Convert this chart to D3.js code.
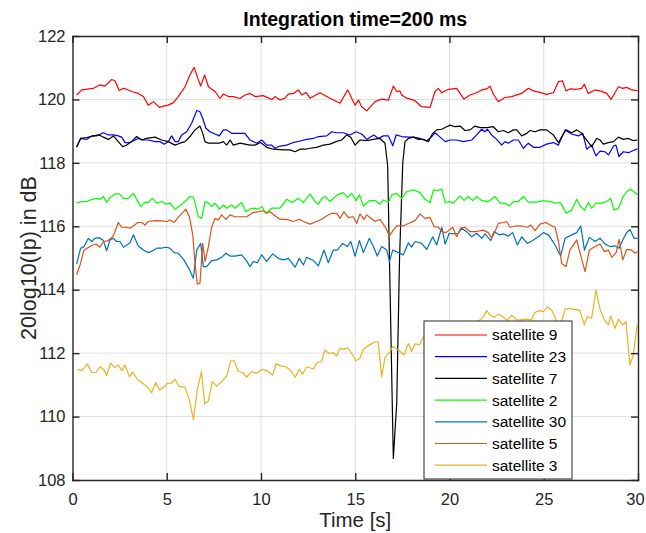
<!DOCTYPE html>
<html lang="en">
<head>
<meta charset="UTF-8">
<title>Integration time=200 ms</title>
<script src="https://d3js.org/d3.v7.min.js"></script>
<style>
    body { margin: 0; background: #fff; }
    svg { font-family: "Liberation Sans", Arial, sans-serif; }
    .grid line { stroke: #dedede; stroke-width: 1; }
    .axis path, .axis line { stroke: #262626; stroke-width: 1.4; }
    .axis text { font-size: 16.5px; fill: #262626; }
    .series { fill: none; stroke-width: 1.2; stroke-linejoin: round; }
    .legend text { font-size: 15.5px; fill: #000; }
</style>
</head>
<body>
<script>
// values, [time s, 20log10(Ip) dB]
var sat9 = [[0.22,120.14],[0.49,120.30],[1.11,120.35],[1.46,120.46],[1.72,120.42],[2.08,120.63],[2.25,120.59],[2.48,120.28],[2.70,120.35],[2.87,120.32],[3.14,120.25],[3.49,120.19],[3.76,120.09],[4.02,119.82],[4.29,119.93],[4.61,119.75],[4.82,119.79],[5.08,119.82],[5.35,119.90],[5.61,120.09],[5.97,120.40],[6.23,120.77],[6.45,121.01],[6.62,120.72],[6.80,120.42],[7.01,120.77],[7.21,120.40],[7.56,120.25],[7.82,120.03],[8.00,120.17],[8.27,120.09],[8.53,120.09],[8.89,120.03],[9.15,120.14],[9.42,120.19],[9.68,120.09],[10.12,120.12],[10.57,120.00],[10.74,120.09],[11.01,119.98],[11.27,120.04],[11.45,120.17],[11.72,120.19],[11.98,120.30],[12.16,120.14],[12.39,120.22],[12.60,120.04],[13.13,120.21],[13.66,120.04],[14.19,119.88],[14.60,120.30],[14.99,119.82],[15.17,119.98],[15.34,119.77],[15.61,119.64],[16.05,119.93],[16.40,120.01],[16.76,119.98],[17.02,120.42],[17.20,120.25],[17.37,120.27],[17.46,120.14],[17.73,120.04],[18.17,119.96],[18.52,119.77],[18.97,119.75],[19.23,120.25],[19.41,120.35],[19.59,120.21],[19.94,120.32],[20.38,120.35],[20.77,120.01],[21.09,120.14],[21.44,120.21],[21.71,120.30],[21.97,120.33],[22.15,120.42],[22.32,120.17],[22.59,119.93],[22.94,120.06],[23.30,120.09],[23.65,120.16],[23.83,120.19],[24.18,120.35],[24.45,120.27],[24.80,120.22],[25.15,120.16],[25.51,120.21],[25.78,120.56],[25.99,120.59],[26.18,120.27],[26.39,120.33],[26.75,120.32],[27.01,120.35],[27.15,120.48],[27.36,120.19],[27.72,120.30],[27.99,120.27],[28.34,120.19],[28.57,120.00],[28.78,120.21],[28.96,120.40],[29.19,120.35],[29.40,120.38],[29.67,120.30],[29.97,120.28]];

var sat23 = [[0.22,118.51],[0.43,118.77],[0.75,118.74],[1.02,118.85],[1.28,118.85],[1.64,118.95],[1.90,118.88],[2.17,118.88],[2.43,118.85],[2.61,118.81],[2.79,118.64],[3.05,118.64],[3.32,118.72],[3.49,118.77],[3.76,118.72],[4.02,118.72],[4.38,118.67],[4.64,118.67],[4.87,118.59],[5.08,118.67],[5.26,118.85],[5.44,118.67],[5.61,118.67],[5.79,118.88],[6.06,118.98],[6.32,119.25],[6.59,119.65],[6.76,119.61],[6.91,119.40],[7.08,119.09],[7.29,118.98],[7.56,118.91],[7.79,118.85],[8.00,119.04],[8.18,119.04],[8.44,118.93],[8.80,118.93],[9.15,118.93],[9.42,118.72],[9.77,118.62],[10.04,118.72],[10.30,118.56],[10.57,118.56],[10.74,118.46],[11.01,118.53],[11.36,118.56],[11.71,118.64],[12.07,118.69],[12.42,118.74],[12.78,118.77],[13.04,118.83],[13.49,118.85],[13.75,118.98],[14.02,118.95],[14.37,118.95],[14.72,118.88],[15.04,118.98],[15.34,118.91],[15.61,118.74],[15.78,118.81],[15.99,118.88],[16.22,118.77],[16.49,118.85],[16.76,118.85],[16.99,118.54],[17.17,118.88],[17.46,118.83],[17.82,118.81],[18.08,118.81],[18.44,118.77],[18.79,118.69],[19.06,118.83],[19.23,118.95],[19.50,118.81],[19.77,118.67],[20.03,118.72],[20.38,118.72],[20.73,118.67],[21.18,118.72],[21.44,118.88],[21.71,119.06],[21.88,118.98],[22.02,119.06],[22.23,118.88],[22.50,118.74],[22.77,118.56],[22.94,118.67],[23.12,118.62],[23.39,118.72],[23.65,118.72],[23.92,118.46],[24.18,118.62],[24.45,118.49],[24.80,118.49],[25.15,118.59],[25.51,118.64],[25.78,118.56],[26.13,119.04],[26.48,118.91],[26.84,118.85],[27.07,118.93],[27.28,118.43],[27.54,118.56],[27.77,118.22],[27.99,118.37],[28.25,118.35],[28.43,118.25],[28.70,118.53],[28.83,118.56],[28.99,118.20],[29.22,118.35],[29.49,118.32],[29.75,118.39],[29.97,118.44]];

var sat7 = [[0.22,118.49],[0.43,118.77],[0.75,118.80],[1.11,118.85],[1.42,118.88],[1.64,118.81],[1.90,118.74],[2.17,118.85],[2.43,118.67],[2.66,118.51],[2.87,118.56],[3.14,118.67],[3.40,118.83],[3.67,118.72],[3.93,118.77],[4.38,118.81],[4.73,118.72],[5.08,118.67],[5.44,118.56],[5.70,118.62],[5.97,118.67],[6.23,118.83],[6.50,119.04],[6.76,119.16],[6.91,118.93],[7.03,118.67],[7.21,118.62],[7.47,118.62],[7.79,118.62],[8.00,118.67],[8.18,118.56],[8.36,118.72],[8.53,118.56],[8.89,118.62],[9.15,118.59],[9.42,118.56],[9.68,118.56],[9.98,118.64],[10.30,118.49],[10.66,118.43],[11.19,118.41],[11.54,118.41],[11.81,118.35],[12.07,118.43],[12.34,118.43],[12.60,118.46],[12.95,118.49],[13.31,118.56],[13.66,118.59],[13.98,118.67],[14.28,118.72],[14.55,118.88],[14.76,118.81],[14.99,118.56],[15.25,118.72],[15.61,118.70],[15.96,118.74],[16.31,118.77],[16.58,118.62],[16.72,117.90],[17.02,108.68],[17.20,110.42],[17.35,115.00],[17.52,118.00],[17.64,118.67],[17.82,118.77],[18.08,118.81],[18.35,118.74],[18.62,118.74],[18.88,118.67],[19.11,118.93],[19.32,119.04],[19.59,119.06],[19.85,119.14],[20.03,119.19],[20.29,119.14],[20.56,119.16],[20.82,119.02],[21.09,119.04],[21.36,119.16],[21.62,119.11],[21.97,119.11],[22.32,119.14],[22.59,118.98],[22.86,119.02],[23.12,118.95],[23.39,119.04],[23.57,119.04],[23.83,118.85],[24.10,118.93],[24.27,119.02],[24.54,118.98],[24.80,119.04],[25.15,119.04],[25.51,118.88],[25.78,118.64],[26.01,118.88],[26.18,119.04],[26.48,118.95],[26.75,119.04],[27.01,118.93],[27.28,118.72],[27.54,118.51],[27.81,118.77],[27.99,118.72],[28.16,118.59],[28.43,118.64],[28.70,118.67],[28.96,118.81],[29.22,118.74],[29.49,118.77],[29.75,118.70],[29.97,118.72]];

var sat2 = [[0.22,116.73],[0.49,116.78],[0.75,116.78],[1.02,116.85],[1.28,116.88],[1.46,116.85],[1.64,116.94],[1.81,116.75],[1.99,116.91],[2.25,117.02],[2.48,117.02],[2.70,116.88],[2.96,116.88],[3.23,117.04],[3.40,116.85],[3.62,116.62],[3.85,116.76],[4.02,116.75],[4.25,116.88],[4.47,116.73],[4.73,116.78],[4.96,116.70],[5.17,116.73],[5.44,116.54],[5.67,116.64],[5.97,116.78],[6.23,116.94],[6.41,116.91],[6.55,116.62],[6.68,116.30],[6.85,116.25],[7.03,116.78],[7.21,116.73],[7.38,116.62],[7.56,116.73],[7.79,116.54],[8.00,116.67],[8.18,116.57],[8.44,116.67],[8.62,116.57],[8.97,116.75],[9.20,116.46],[9.42,116.54],[9.68,116.57],[9.86,116.54],[10.04,116.62],[10.27,116.41],[10.57,116.57],[11.01,116.57],[11.36,116.85],[11.63,116.75],[11.98,116.88],[12.25,116.75],[12.60,117.02],[12.87,116.78],[13.04,116.69],[13.22,116.88],[13.39,116.94],[13.66,116.78],[14.05,116.99],[14.37,117.06],[14.58,116.91],[14.81,117.04],[15.04,116.81],[15.22,116.99],[15.43,116.64],[15.75,116.81],[16.05,116.81],[16.31,116.70],[16.49,116.83],[16.76,116.75],[16.93,116.99],[17.20,117.04],[17.46,116.88],[17.73,117.09],[18.08,117.15],[18.44,117.06],[18.70,116.85],[18.97,116.75],[19.15,117.15],[19.36,117.12],[19.59,117.17],[19.77,116.75],[19.99,116.78],[20.20,116.73],[20.56,116.96],[20.77,116.81],[21.00,116.94],[21.23,116.81],[21.44,116.94],[21.71,116.81],[22.06,116.78],[22.41,116.94],[22.68,116.73],[22.94,116.73],[23.17,116.64],[23.39,116.78],[23.65,116.78],[23.92,116.94],[24.18,116.76],[24.63,116.76],[24.98,116.81],[25.33,116.78],[25.60,116.73],[25.87,116.75],[26.01,116.62],[26.18,116.41],[26.48,116.51],[26.75,116.85],[26.93,116.64],[27.16,116.51],[27.37,116.75],[27.54,116.57],[27.77,116.73],[28.07,116.73],[28.34,116.78],[28.55,116.88],[28.73,116.51],[28.96,116.57],[29.22,116.94],[29.40,117.09],[29.61,117.17],[29.79,117.09],[29.97,116.99]];

var sat30 = [[0.22,114.81],[0.43,115.31],[0.61,115.36],[0.84,115.62],[1.02,115.52],[1.19,115.62],[1.42,115.64],[1.64,115.55],[1.81,115.23],[1.99,115.57],[2.17,115.62],[2.34,115.52],[2.52,115.52],[2.70,115.34],[2.96,115.44],[3.05,115.48],[3.23,115.73],[3.49,115.38],[3.76,115.25],[4.02,115.17],[4.25,115.23],[4.47,115.31],[4.73,115.31],[4.96,115.34],[5.17,115.31],[5.39,115.17],[5.61,115.15],[5.91,114.94],[6.20,114.64],[6.41,114.36],[6.59,115.25],[6.80,115.46],[6.94,114.73],[7.12,114.73],[7.38,114.92],[7.65,114.94],[7.91,115.02],[8.14,115.15],[8.36,115.06],[8.62,115.06],[8.97,115.10],[9.20,114.94],[9.42,114.73],[9.59,114.89],[9.81,114.85],[10.04,115.10],[10.30,114.89],[10.62,115.13],[10.92,114.99],[11.19,114.94],[11.45,114.99],[11.81,114.71],[12.03,114.99],[12.25,114.78],[12.42,115.02],[12.78,114.92],[13.04,114.75],[13.34,115.25],[13.57,114.85],[13.84,115.25],[14.05,115.25],[14.33,115.46],[14.58,115.36],[14.76,115.52],[14.99,115.06],[15.22,115.55],[15.43,115.17],[15.75,115.62],[15.96,115.36],[16.17,115.06],[16.40,115.36],[16.67,115.25],[16.81,114.89],[16.99,115.25],[17.29,115.17],[17.55,115.10],[17.82,115.48],[17.99,115.34],[18.17,115.52],[18.52,115.46],[18.79,115.27],[19.11,115.67],[19.32,115.41],[19.59,115.97],[19.77,115.44],[19.99,115.78],[20.20,115.76],[20.47,115.78],[20.65,115.94],[20.91,115.83],[21.18,115.67],[21.44,115.78],[21.71,115.62],[21.88,115.76],[22.19,115.55],[22.36,115.83],[22.64,115.73],[22.86,115.76],[23.12,115.69],[23.35,115.80],[23.60,115.41],[23.83,115.67],[24.13,115.46],[24.45,115.57],[24.71,115.67],[24.98,115.80],[25.25,115.73],[25.60,115.41],[25.90,115.06],[26.13,115.62],[26.48,115.73],[26.75,115.80],[26.96,116.01],[27.16,115.25],[27.42,115.65],[27.72,115.52],[27.99,115.62],[28.25,115.44],[28.52,115.36],[28.78,115.38],[29.00,115.31],[29.19,115.57],[29.40,115.80],[29.58,115.90],[29.79,115.62],[29.97,115.62]];

var sat5 = [[0.22,114.47],[0.40,114.78],[0.61,115.25],[0.84,115.33],[1.07,115.41],[1.25,115.44],[1.46,115.34],[1.64,115.52],[1.90,115.55],[2.13,115.67],[2.25,115.83],[2.43,116.12],[2.61,115.97],[2.84,115.97],[3.05,115.94],[3.23,116.01],[3.46,116.12],[3.67,116.12],[3.85,116.04],[4.02,116.15],[4.38,116.18],[4.73,116.17],[5.00,116.15],[5.17,116.20],[5.39,116.12],[5.61,116.28],[5.84,116.43],[6.02,116.54],[6.20,116.30],[6.38,115.73],[6.50,114.83],[6.62,114.18],[6.76,114.20],[6.91,115.46],[7.03,114.89],[7.21,115.36],[7.38,115.97],[7.56,116.25],[7.74,116.20],[7.91,116.36],[8.14,116.22],[8.36,116.36],[8.62,116.30],[8.97,116.30],[9.24,116.30],[9.56,116.43],[9.91,116.46],[10.12,116.49],[10.30,116.41],[10.48,116.46],[10.74,116.33],[11.01,116.22],[11.36,116.22],[11.71,116.15],[12.03,116.22],[12.25,116.15],[12.60,116.07],[12.95,116.15],[13.22,116.22],[13.49,116.33],[13.75,116.41],[14.02,116.41],[14.19,116.25],[14.40,116.46],[14.63,116.28],[14.90,116.30],[15.08,116.09],[15.25,116.39],[15.46,116.22],[15.61,116.36],[15.78,116.28],[16.05,116.15],[16.31,116.22],[16.58,115.99],[16.81,115.70],[17.02,115.88],[17.20,116.01],[17.55,116.01],[17.82,116.09],[18.17,116.18],[18.44,116.39],[18.70,116.25],[18.97,116.28],[19.18,115.99],[19.41,115.97],[19.59,115.83],[19.81,115.80],[20.17,115.97],[20.38,115.67],[20.59,115.94],[20.82,115.97],[21.09,115.83],[21.40,115.83],[21.62,115.86],[21.79,115.88],[22.06,115.80],[22.24,115.62],[22.41,115.83],[22.59,116.09],[22.86,116.12],[23.03,116.15],[23.21,115.97],[23.53,116.01],[23.83,116.01],[24.13,115.97],[24.31,116.04],[24.54,115.86],[24.80,116.07],[25.12,116.12],[25.33,116.04],[25.60,115.97],[25.78,115.52],[25.95,114.83],[26.18,114.73],[26.39,115.25],[26.75,115.57],[26.93,115.15],[27.19,114.57],[27.42,115.25],[27.72,115.36],[27.99,115.44],[28.22,115.20],[28.43,115.25],[28.61,115.02],[28.84,115.17],[29.00,115.59],[29.19,114.94],[29.40,115.27],[29.67,115.25],[29.85,115.15],[29.97,115.20]];

var sat3 = [[0.26,111.49],[0.49,111.45],[0.79,111.66],[1.02,111.39],[1.25,111.39],[1.46,111.57],[1.64,111.49],[1.81,111.30],[2.02,111.68],[2.25,111.55],[2.43,111.63],[2.61,111.45],[2.79,111.62],[3.02,111.26],[3.19,111.41],[3.44,111.17],[3.72,111.05],[3.97,110.94],[4.20,110.75],[4.41,111.07],[4.61,110.84],[4.85,110.92],[5.03,111.05],[5.23,111.05],[5.44,111.17],[5.65,110.96],[5.97,110.92],[6.20,110.52],[6.41,109.91],[6.62,110.84],[6.84,111.42],[7.01,110.40],[7.21,110.50],[7.42,111.10],[7.65,110.96],[7.91,111.10],[8.18,111.28],[8.39,111.75],[8.57,111.76],[8.80,111.42],[9.03,111.39],[9.24,111.24],[9.50,111.42],[9.77,111.36],[10.04,111.49],[10.30,111.45],[10.62,111.31],[10.80,111.66],[11.04,111.60],[11.33,111.57],[11.58,111.45],[11.81,111.24],[12.03,111.49],[12.21,111.34],[12.42,111.57],[12.78,111.50],[12.95,111.68],[13.22,111.76],[13.39,112.10],[13.61,111.99],[13.80,112.02],[14.02,111.91],[14.19,112.15],[14.40,112.12],[14.60,112.17],[14.81,111.99],[15.04,111.76],[15.25,111.84],[15.43,112.12],[15.75,112.26],[16.05,112.36],[16.22,112.36],[16.40,111.26],[16.58,111.87],[16.84,112.05],[16.99,112.21],[17.29,112.10],[17.59,111.94],[17.82,112.31],[17.99,112.05],[18.17,112.29],[18.40,112.26],[18.62,112.52],[18.95,112.70],[19.35,112.60],[19.75,112.80],[20.15,112.70],[20.55,112.90],[20.95,112.80],[21.35,112.95],[21.62,113.05],[21.80,113.15],[21.97,113.34],[22.15,113.20],[22.36,113.13],[22.59,113.23],[22.82,113.15],[23.07,113.03],[23.30,113.20],[23.56,113.05],[23.83,113.05],[24.09,113.07],[24.35,113.05],[24.53,113.28],[24.76,113.34],[24.98,113.31],[25.19,113.45],[25.42,113.36],[25.65,113.05],[25.87,112.84],[26.13,113.38],[26.39,113.41],[26.57,113.38],[26.75,113.38],[26.92,113.34],[27.15,112.89],[27.31,113.15],[27.54,113.10],[27.77,113.99],[27.99,113.38],[28.21,113.05],[28.43,112.89],[28.55,113.17],[28.78,112.78],[28.96,113.07],[29.19,112.89],[29.36,112.99],[29.57,111.63],[29.75,111.94],[29.96,112.89]];

var labels = ["satellite 9", "satellite 23", "satellite 7", "satellite 2", "satellite 30", "satellite 5", "satellite 3"];
var colors = ["#ff0000", "#0000ff", "#000000", "#00ff00", "#0072bd", "#d95319", "#edb120"];
var xTicks = [0, 5, 10, 15, 20, 25, 30];
var yTicks = [108, 110, 112, 114, 116, 118, 120, 122];

var allSeries = [sat9, sat23, sat7, sat2, sat30, sat5, sat3];

var width = 646, height = 533;
var margin = {top: 36, right: 8, bottom: 53, left: 72.5};

var svg = d3.select("body").append("svg")
    .attr("width", width)
    .attr("height", height);

var x = d3.scaleLinear().domain([0, 30]).range([margin.left, width - margin.right]);
var y = d3.scaleLinear().domain([108, 122]).range([height - margin.bottom, margin.top]);

// grid
var grid = svg.append("g").attr("class", "grid");
grid.selectAll(".gx")
    .data(xTicks.slice(1, -1))
    .enter().append("line")
    .attr("x1", d => x(d)).attr("x2", d => x(d))
    .attr("y1", y(108)).attr("y2", y(122));
grid.selectAll(".gy")
    .data(yTicks.slice(1, -1))
    .enter().append("line")
    .attr("x1", x(0)).attr("x2", x(30))
    .attr("y1", d => y(d)).attr("y2", d => y(d));

// lines
var line = d3.line()
    .x(d => x(d[0]))
    .y(d => y(d[1]));

svg.selectAll(".series")
    .data(allSeries)
    .enter().append("path")
    .attr("class", "series")
    .attr("stroke", (d, i) => colors[i])
    .attr("d", line);

// axes, ticks pointing inward on all four sides
var xAxis = svg.append("g").attr("class", "axis")
    .attr("transform", "translate(0," + y(108) + ")")
    .call(d3.axisBottom(x).tickValues(xTicks).tickSizeInner(-7).tickSizeOuter(0).tickPadding(13));
// last label sits at the window edge, keep it inside
xAxis.selectAll(".tick text").filter(d => d === 30).attr("dx", -3);

svg.append("g").attr("class", "axis")
    .attr("transform", "translate(0," + y(122) + ")")
    .call(d3.axisTop(x).tickValues(xTicks).tickSizeInner(-7).tickSizeOuter(0).tickFormat(""));
svg.append("g").attr("class", "axis")
    .attr("transform", "translate(" + x(0) + ",0)")
    .call(d3.axisLeft(y).tickValues(yTicks).tickSizeInner(-7).tickSizeOuter(0).tickPadding(7));
svg.append("g").attr("class", "axis")
    .attr("transform", "translate(" + x(30) + ",0)")
    .call(d3.axisRight(y).tickValues(yTicks).tickSizeInner(-7).tickSizeOuter(0).tickFormat(""));

svg.selectAll(".axis .domain").attr("stroke-linecap", "square");

// title and labels
svg.append("text")
    .attr("x", (x(0) + x(30)) / 2)
    .attr("y", 26)
    .attr("text-anchor", "middle")
    .style("font-size", "19.5px")
    .style("font-weight", "bold")
    .text("Integration time=200 ms");

svg.append("text")
    .attr("x", (x(0) + x(30)) / 2)
    .attr("y", 527)
    .attr("text-anchor", "middle")
    .style("font-size", "20.5px")
    .attr("fill", "#262626")
    .text("Time [s]");

svg.append("text")
    .attr("transform", "translate(36," + (y(108) + y(122)) / 2 + ") rotate(-90)")
    .attr("text-anchor", "middle")
    .style("font-size", "21.5px")
    .attr("fill", "#262626")
    .text("20log10(Ip) in dB");

// legend
var legend = svg.append("g").attr("class", "legend");
legend.append("rect")
    .attr("x", 424).attr("y", 321)
    .attr("width", 148).attr("height", 158)
    .attr("fill", "#fff")
    .attr("stroke", "#262626")
    .attr("stroke-width", 1);

var item = legend.selectAll(".item")
    .data(labels)
    .enter().append("g")
    .attr("transform", (d, i) => "translate(0," + (335 + i * 21.7) + ")");
item.append("line")
    .attr("x1", 435).attr("x2", 487)
    .attr("stroke", (d, i) => colors[i])
    .attr("stroke-width", 1.2);
item.append("text")
    .attr("x", 492)
    .attr("dy", "0.35em")
    .text(d => d);
</script>
</body>
</html>
